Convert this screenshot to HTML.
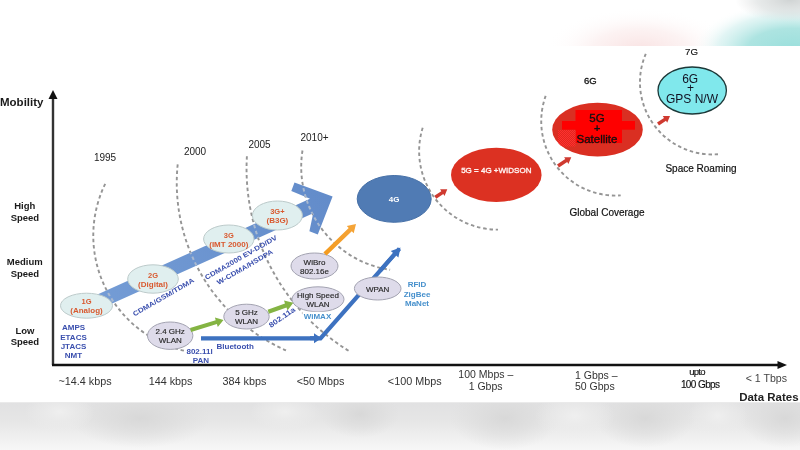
<!DOCTYPE html>
<html><head><meta charset="utf-8"><style>
html,body{margin:0;padding:0;width:800px;height:450px;overflow:hidden;background:#fff}
#r{display:block;filter:blur(0.5px)}
text{font-family:"Liberation Sans",sans-serif}
</style></head><body>
<svg id="r" width="800" height="450" viewBox="0 0 800 450">
<defs>
<radialGradient id="pk"><stop offset="0" stop-color="#f9e2e2"/><stop offset="0.5" stop-color="#fbeded" stop-opacity="0.7"/><stop offset="1" stop-color="#fff" stop-opacity="0"/></radialGradient>
<radialGradient id="cy"><stop offset="0" stop-color="#9adfdc"/><stop offset="0.45" stop-color="#ade4e1"/><stop offset="0.75" stop-color="#d6f1f0" stop-opacity="0.7"/><stop offset="1" stop-color="#fff" stop-opacity="0"/></radialGradient>
<radialGradient id="gr"><stop offset="0" stop-color="#d0d4d4"/><stop offset="0.6" stop-color="#d8dcdc" stop-opacity="0.6"/><stop offset="1" stop-color="#e0e0e0" stop-opacity="0"/></radialGradient>
<radialGradient id="dk"><stop offset="0" stop-color="#d8d8d8"/><stop offset="0.5" stop-color="#dbdbdb" stop-opacity="0.6"/><stop offset="1" stop-color="#dddddd" stop-opacity="0"/></radialGradient>
<radialGradient id="lt"><stop offset="0" stop-color="#efefef"/><stop offset="0.5" stop-color="#ececec" stop-opacity="0.6"/><stop offset="1" stop-color="#eeeeee" stop-opacity="0"/></radialGradient>
<linearGradient id="bot" x1="0" y1="0" x2="0" y2="1"><stop offset="0" stop-color="#e1e1e2"/><stop offset="0.4" stop-color="#e6e6e6"/><stop offset="1" stop-color="#f7f7f7"/></linearGradient>
<linearGradient id="org" x1="0" y1="1" x2="1" y2="0"><stop offset="0" stop-color="#f39a1e"/><stop offset="1" stop-color="#f5a53a"/></linearGradient>
</defs>
<rect x="0" y="0" width="800" height="46" fill="#fff"/>
<clipPath id="tc"><rect x="0" y="0" width="800" height="46"/></clipPath><g clip-path="url(#tc)">
<ellipse cx="640" cy="50" rx="95" ry="42" fill="url(#pk)"/>
<ellipse cx="792" cy="50" rx="100" ry="48" fill="url(#cy)"/>
<ellipse cx="790" cy="0" rx="55" ry="22" fill="url(#gr)"/>
</g>
<rect x="0" y="402" width="800" height="48" fill="url(#bot)"/>
<clipPath id="bc"><rect x="0" y="0" width="800" height="48"/></clipPath><g clip-path="url(#bc)" transform="translate(0,402)">
<ellipse cx="140" cy="16" rx="70" ry="30" fill="url(#dk)"/>
<ellipse cx="360" cy="12" rx="40" ry="24" fill="url(#dk)"/>
<ellipse cx="505" cy="16" rx="55" ry="32" fill="url(#dk)"/>
<ellipse cx="645" cy="16" rx="50" ry="30" fill="url(#dk)"/>
<ellipse cx="785" cy="16" rx="45" ry="30" fill="url(#dk)"/>
<ellipse cx="60" cy="10" rx="35" ry="20" fill="url(#lt)"/>
<ellipse cx="285" cy="10" rx="35" ry="18" fill="url(#lt)"/>
<ellipse cx="575" cy="14" rx="40" ry="24" fill="url(#lt)"/>
<ellipse cx="718" cy="14" rx="30" ry="22" fill="url(#lt)"/>
<rect x="0" y="0" width="800" height="1" fill="#eaeaea"/>
</g>
<path d="M105.2 183.8 A118.4 118.4 0 0 0 185.3 351.0" fill="none" stroke="#959595" stroke-width="1.9" stroke-dasharray="3.5 2.8"/>
<path d="M177.7 164.3 A183.1 183.1 0 0 0 286.0 350.4" fill="none" stroke="#959595" stroke-width="1.9" stroke-dasharray="3.5 2.8"/>
<path d="M246.9 156.2 A213.6 213.6 0 0 0 348.7 350.8" fill="none" stroke="#959595" stroke-width="1.9" stroke-dasharray="3.5 2.8"/>
<path d="M302.5 150.5 A104.1 104.1 0 0 0 390.1 269.8" fill="none" stroke="#959595" stroke-width="1.9" stroke-dasharray="3.5 2.8"/>
<path d="M422.7 127.7 A78.5 78.5 0 0 0 498.0 229.6" fill="none" stroke="#959595" stroke-width="1.9" stroke-dasharray="3.5 2.8"/>
<path d="M545.7 95.9 A74.3 74.3 0 0 0 620.7 195.4" fill="none" stroke="#959595" stroke-width="1.9" stroke-dasharray="3.5 2.8"/>
<path d="M645.8 53.8 A72.2 72.2 0 0 0 718.0 154.2" fill="none" stroke="#959595" stroke-width="1.9" stroke-dasharray="3.5 2.8"/>
<line x1="53" y1="97" x2="53" y2="365" stroke="#333" stroke-width="2.4"/>
<polygon points="53,90 48.5,99 57.5,99" fill="#111"/>
<line x1="52" y1="365" x2="779" y2="365" stroke="#111" stroke-width="2.6"/>
<polygon points="787,365 777.5,361 777.5,369" fill="#111"/>
<clipPath id="bandclip"><polygon points="90.7,297.5 310.0,198.8 291.3,191.0 294.5,182.5 332.6,196.6 317.8,234.5 309.4,231.3 313.2,213.2 96.6,310.6"/></clipPath>
<linearGradient id="bandg" gradientUnits="userSpaceOnUse" x1="100" y1="300" x2="330" y2="200"><stop offset="0" stop-color="#749cd5"/><stop offset="1" stop-color="#638cca"/></linearGradient>
<polygon points="90.7,297.5 310.0,198.8 291.3,191.0 294.5,182.5 332.6,196.6 317.8,234.5 309.4,231.3 313.2,213.2 96.6,310.6" fill="url(#bandg)"/>
<path d="M105.2 183.8 A118.4 118.4 0 0 0 185.3 351.0" fill="none" stroke="#a9b9cf" stroke-width="2" stroke-dasharray="3.5 2.8" clip-path="url(#bandclip)"/>
<path d="M177.7 164.3 A183.1 183.1 0 0 0 286.0 350.4" fill="none" stroke="#a9b9cf" stroke-width="2" stroke-dasharray="3.5 2.8" clip-path="url(#bandclip)"/>
<path d="M246.9 156.2 A213.6 213.6 0 0 0 348.7 350.8" fill="none" stroke="#a9b9cf" stroke-width="2" stroke-dasharray="3.5 2.8" clip-path="url(#bandclip)"/>
<path d="M302.5 150.5 A104.1 104.1 0 0 0 390.1 269.8" fill="none" stroke="#a9b9cf" stroke-width="2" stroke-dasharray="3.5 2.8" clip-path="url(#bandclip)"/>
<path d="M422.7 127.7 A78.5 78.5 0 0 0 498.0 229.6" fill="none" stroke="#a9b9cf" stroke-width="2" stroke-dasharray="3.5 2.8" clip-path="url(#bandclip)"/>
<path d="M545.7 95.9 A74.3 74.3 0 0 0 620.7 195.4" fill="none" stroke="#a9b9cf" stroke-width="2" stroke-dasharray="3.5 2.8" clip-path="url(#bandclip)"/>
<path d="M645.8 53.8 A72.2 72.2 0 0 0 718.0 154.2" fill="none" stroke="#a9b9cf" stroke-width="2" stroke-dasharray="3.5 2.8" clip-path="url(#bandclip)"/>
<ellipse cx="86.5" cy="305.7" rx="26" ry="12.5" fill="#e0efef" stroke="#bccaca" stroke-width="1"/>
<text x="86.5" y="304.2" font-size="7.5" font-weight="bold" fill="#d9592f" text-anchor="middle" >1G</text>
<text x="86.5" y="313.2" font-size="8" font-weight="bold" fill="#d9592f" text-anchor="middle" >(Analog)</text>
<ellipse cx="153" cy="279" rx="25.3" ry="14.2" fill="#e0efef" stroke="#bccaca" stroke-width="1"/>
<text x="153" y="277.5" font-size="7.5" font-weight="bold" fill="#d9592f" text-anchor="middle" >2G</text>
<text x="153" y="286.5" font-size="8" font-weight="bold" fill="#d9592f" text-anchor="middle" >(Digital)</text>
<ellipse cx="228.8" cy="239" rx="25.2" ry="14" fill="#e0efef" stroke="#bccaca" stroke-width="1"/>
<text x="228.8" y="237.5" font-size="7.5" font-weight="bold" fill="#d9592f" text-anchor="middle" >3G</text>
<text x="228.8" y="246.5" font-size="8" font-weight="bold" fill="#d9592f" text-anchor="middle" >(IMT 2000)</text>
<ellipse cx="277.4" cy="215.5" rx="25" ry="14.5" fill="#e0efef" stroke="#bccaca" stroke-width="1"/>
<text x="277.4" y="214.0" font-size="7.5" font-weight="bold" fill="#d9592f" text-anchor="middle" >3G+</text>
<text x="277.4" y="223.0" font-size="8" font-weight="bold" fill="#d9592f" text-anchor="middle" >(B3G)</text>
<polyline points="201,338.3 320.5,338.3 399.5,248.7" fill="none" stroke="#3d72c0" stroke-width="4.2" stroke-linejoin="miter"/>
<polygon points="310.0,340.3 314.0,340.3 314.0,343.3 321.5,338.3 314.0,333.3 314.0,336.3 310.0,336.3" fill="#3d72c0"/>
<polygon points="381.5,272.3 396.1,255.6 398.4,257.6 400.5,247.5 390.8,251.0 393.1,253.0 378.5,269.7" fill="#3d72c0"/>
<ellipse cx="170.2" cy="335.7" rx="22.7" ry="13.7" fill="#dedbea" stroke="#a2a2b0" stroke-width="1"/>
<text x="170.2" y="334.2" font-size="8" font-weight="normal" fill="#262626" text-anchor="middle" stroke="#262626" stroke-width="0.15">2.4 GHz</text>
<text x="170.2" y="343.2" font-size="8" font-weight="normal" fill="#262626" text-anchor="middle" stroke="#262626" stroke-width="0.15">WLAN</text>
<ellipse cx="246.5" cy="316.6" rx="22.7" ry="12.4" fill="#dedbea" stroke="#a2a2b0" stroke-width="1"/>
<text x="246.5" y="315.1" font-size="8" font-weight="normal" fill="#262626" text-anchor="middle" stroke="#262626" stroke-width="0.15">5 GHz</text>
<text x="246.5" y="324.1" font-size="8" font-weight="normal" fill="#262626" text-anchor="middle" stroke="#262626" stroke-width="0.15">WLAN</text>
<ellipse cx="318" cy="299.3" rx="26" ry="12.5" fill="#dedbea" stroke="#a2a2b0" stroke-width="1"/>
<text x="318" y="297.8" font-size="8" font-weight="normal" fill="#262626" text-anchor="middle" stroke="#262626" stroke-width="0.15">High Speed</text>
<text x="318" y="306.8" font-size="8" font-weight="normal" fill="#262626" text-anchor="middle" stroke="#262626" stroke-width="0.15">WLAN</text>
<ellipse cx="314.5" cy="266" rx="23.5" ry="13" fill="#dedbea" stroke="#a2a2b0" stroke-width="1"/>
<text x="314.5" y="264.5" font-size="8" font-weight="normal" fill="#262626" text-anchor="middle" stroke="#262626" stroke-width="0.15">WiBro</text>
<text x="314.5" y="273.5" font-size="8" font-weight="normal" fill="#262626" text-anchor="middle" stroke="#262626" stroke-width="0.15">802.16e</text>
<ellipse cx="377.7" cy="288.5" rx="23.3" ry="11.5" fill="#dedbea" stroke="#a2a2b0" stroke-width="1"/>
<text x="377.7" y="291.6" font-size="8" font-weight="normal" fill="#262626" text-anchor="middle" stroke="#262626" stroke-width="0.15">WPAN</text>
<polygon points="191.2,331.9 216.9,324.1 217.8,327.0 223.5,320.0 214.9,317.4 215.7,320.3 190.0,328.1" fill="#84b443"/>
<polygon points="269.0,313.7 286.5,307.5 287.5,310.4 293.3,302.8 284.0,300.5 285.0,303.5 267.6,309.7" fill="#84b443"/>
<polygon points="326.6,255.6 351.8,231.2 353.7,233.2 356.0,224.0 346.8,226.0 348.7,227.9 323.4,252.4" fill="url(#org)"/>
<polygon points="436.3,198.8 443.3,194.1 444.5,196.0 447.3,189.3 440.1,189.3 441.3,191.2 434.3,195.8" fill="#cf3a30"/>
<polygon points="559.0,167.4 567.2,162.0 568.4,163.9 571.3,157.3 564.1,157.2 565.3,159.1 557.0,164.4" fill="#cf3a30"/>
<polygon points="659.0,125.5 666.0,120.8 667.2,122.7 670.0,116.0 662.8,116.0 664.0,117.9 657.0,122.5" fill="#cf3a30"/>
<ellipse cx="394.2" cy="198.9" rx="37" ry="23.4" fill="#507bb4" stroke="#456fa6" stroke-width="1"/>
<text x="394.2" y="201.8" font-size="8" font-weight="bold" fill="#fff" text-anchor="middle" >4G</text>
<ellipse cx="496.3" cy="174.9" rx="45.3" ry="27.1" fill="#dc3122"/>
<text x="496.3" y="172.7" font-size="8" font-weight="normal" fill="#fff4f2" text-anchor="middle" stroke="#fff4f2" stroke-width="0.35">5G = 4G +WIDSON</text>
<ellipse cx="597.5" cy="129.7" rx="45.3" ry="26.9" fill="#da2f22"/>
<rect x="575.5" y="110" width="46.5" height="33" fill="#fe0000"/>
<rect x="562" y="121" width="73" height="8.7" fill="#fe0000"/>
<pattern id="dots" x="0" y="0" width="2" height="2" patternUnits="userSpaceOnUse"><rect width="2" height="2" fill="#e0281e"/><rect width="1" height="1" fill="#ff3030"/><rect x="1" y="1" width="1" height="1" fill="#ff3030"/></pattern>
<clipPath id="e5c"><ellipse cx="597.5" cy="129.7" rx="45.3" ry="26.9"/></clipPath>
<rect x="558" y="130" width="17.5" height="16.5" fill="url(#dots)" clip-path="url(#e5c)"/>
<text x="597" y="122.3" font-size="11.5" font-weight="normal" fill="#111" text-anchor="middle" stroke="#111" stroke-width="0.35">5G</text>
<text x="597" y="132" font-size="11.5" font-weight="bold" fill="#111" text-anchor="middle" >+</text>
<text x="597" y="143" font-size="11.5" font-weight="normal" fill="#111" text-anchor="middle" stroke="#111" stroke-width="0.35">Satellite</text>
<ellipse cx="692.2" cy="90.5" rx="34.2" ry="23.5" fill="#80e8ec" stroke="#1c3838" stroke-width="1.3"/>
<text x="690.2" y="82.6" font-size="12" font-weight="normal" fill="#112" text-anchor="middle" >6G</text>
<text x="690.4" y="91.5" font-size="12" font-weight="normal" fill="#112" text-anchor="middle" >+</text>
<text x="692" y="102.6" font-size="12" font-weight="normal" fill="#112" text-anchor="middle" >GPS N/W</text>
<text x="0" y="106" font-size="11.5" font-weight="bold" fill="#1a1a1a" text-anchor="start" >Mobility</text>
<text x="24.7" y="209" font-size="9.5" font-weight="bold" fill="#1a1a1a" text-anchor="middle" >High</text>
<text x="24.9" y="221" font-size="9.5" font-weight="bold" fill="#1a1a1a" text-anchor="middle" >Speed</text>
<text x="24.7" y="265.4" font-size="9.5" font-weight="bold" fill="#1a1a1a" text-anchor="middle" >Medium</text>
<text x="24.9" y="277" font-size="9.5" font-weight="bold" fill="#1a1a1a" text-anchor="middle" >Speed</text>
<text x="25" y="333.6" font-size="9.5" font-weight="bold" fill="#1a1a1a" text-anchor="middle" >Low</text>
<text x="24.9" y="345" font-size="9.5" font-weight="bold" fill="#1a1a1a" text-anchor="middle" >Speed</text>
<text x="85" y="384.5" font-size="10.8" font-weight="normal" fill="#333" text-anchor="middle" >~14.4 kbps</text>
<text x="170.6" y="384.5" font-size="10.8" font-weight="normal" fill="#333" text-anchor="middle" >144 kbps</text>
<text x="244.4" y="384.5" font-size="10.8" font-weight="normal" fill="#333" text-anchor="middle" >384 kbps</text>
<text x="320.5" y="384.5" font-size="10.8" font-weight="normal" fill="#333" text-anchor="middle" ><50 Mbps</text>
<text x="414.7" y="384.5" font-size="10.8" font-weight="normal" fill="#333" text-anchor="middle" ><100 Mbps</text>
<text x="485.8" y="377.5" font-size="10.5" font-weight="normal" fill="#333" text-anchor="middle" >100 Mbps –</text>
<text x="485.6" y="390" font-size="10.5" font-weight="normal" fill="#333" text-anchor="middle" >1 Gbps</text>
<text x="575" y="379" font-size="10.5" font-weight="normal" fill="#333" text-anchor="start" >1 Gbps –</text>
<text x="575" y="390" font-size="10.5" font-weight="normal" fill="#333" text-anchor="start" >50 Gbps</text>
<text x="697" y="375" font-size="9.5" font-weight="normal" fill="#111" text-anchor="middle" letter-spacing="-0.8" stroke="#111" stroke-width="0.15">upto</text>
<text x="700.2" y="388" font-size="10" font-weight="normal" fill="#111" text-anchor="middle" letter-spacing="-0.6" stroke="#111" stroke-width="0.15">100 Gbps</text>
<text x="766.4" y="382" font-size="10.6" font-weight="normal" fill="#444" text-anchor="middle" >&lt; 1 Tbps</text>
<text x="768.9" y="400.5" font-size="11.5" font-weight="bold" fill="#222" text-anchor="middle" >Data Rates</text>
<text x="105" y="161.3" font-size="10" font-weight="normal" fill="#222" text-anchor="middle" >1995</text>
<text x="195" y="154.7" font-size="10" font-weight="normal" fill="#222" text-anchor="middle" >2000</text>
<text x="259.5" y="148" font-size="10" font-weight="normal" fill="#222" text-anchor="middle" >2005</text>
<text x="314.5" y="141" font-size="10" font-weight="normal" fill="#222" text-anchor="middle" >2010+</text>
<text x="590.3" y="84" font-size="9.5" font-weight="normal" fill="#111" text-anchor="middle" stroke="#111" stroke-width="0.3">6G</text>
<text x="691.5" y="55" font-size="9.7" font-weight="normal" fill="#111" text-anchor="middle" stroke="#111" stroke-width="0.15">7G</text>
<text x="607" y="216" font-size="10" font-weight="normal" fill="#111" text-anchor="middle" stroke="#111" stroke-width="0.2">Global Coverage</text>
<text x="701" y="172" font-size="10" font-weight="normal" fill="#111" text-anchor="middle" stroke="#111" stroke-width="0.2">Space Roaming</text>
<text x="73.5" y="329.8" font-size="8" font-weight="bold" fill="#3a4fae" text-anchor="middle" >AMPS</text>
<text x="73.5" y="339.6" font-size="8" font-weight="bold" fill="#3a4fae" text-anchor="middle" >ETACS</text>
<text x="73.5" y="349" font-size="8" font-weight="bold" fill="#3a4fae" text-anchor="middle" >JTACS</text>
<text x="73.5" y="358" font-size="8" font-weight="bold" fill="#3a4fae" text-anchor="middle" >NMT</text>
<g transform="translate(134.5,316.5) rotate(-30) scale(1,0.85)"><text x="0" y="0" font-size="8" font-weight="bold" fill="#3a4fae" text-anchor="start" >CDMA/GSM/TDMA</text></g>
<g transform="translate(206.5,280) rotate(-30) scale(1,0.85)"><text x="0" y="0" font-size="8" font-weight="bold" fill="#3a4fae" text-anchor="start" >CDMA2000 EV-DO/DV</text></g>
<g transform="translate(218.5,285) rotate(-30) scale(1,0.85)"><text x="0" y="0" font-size="8" font-weight="bold" fill="#3a4fae" text-anchor="start" >W-CDMA/HSDPA</text></g>
<g transform="translate(271,328) rotate(-35) scale(1,0.85)"><text x="0" y="0" font-size="8.5" font-weight="bold" fill="#3a4fae" text-anchor="start" >802.11a</text></g>
<text x="199.6" y="354" font-size="8" font-weight="bold" fill="#3a4fae" text-anchor="middle" >802.11l</text>
<text x="201" y="362.5" font-size="8" font-weight="bold" fill="#3a4fae" text-anchor="middle" >PAN</text>
<text x="235.2" y="348.6" font-size="8" font-weight="bold" fill="#3a4fae" text-anchor="middle" >Bluetooth</text>
<rect x="302.5" y="311.8" width="30" height="9" fill="#fff"/>
<text x="317.5" y="319" font-size="8" font-weight="bold" fill="#4690cc" text-anchor="middle" >WiMAX</text>
<text x="417" y="286.7" font-size="8" font-weight="bold" fill="#4690cc" text-anchor="middle" >RFID</text>
<text x="417" y="296.7" font-size="8" font-weight="bold" fill="#4690cc" text-anchor="middle" >ZigBee</text>
<text x="417" y="306" font-size="8" font-weight="bold" fill="#4690cc" text-anchor="middle" >MaNet</text>
</svg>
</body></html>
